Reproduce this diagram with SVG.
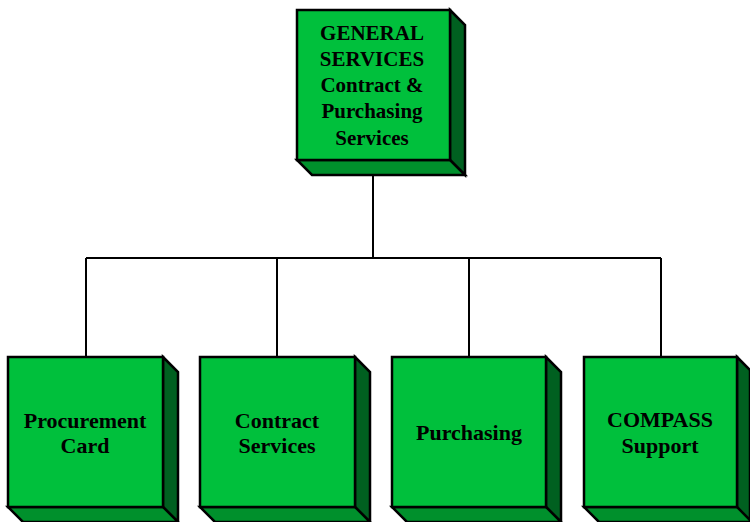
<svg xmlns="http://www.w3.org/2000/svg" width="750" height="522" viewBox="0 0 750 522">
<style>
.front{fill:#00C03C;stroke:#000;stroke-width:2.5;stroke-linejoin:miter}
.side{fill:#006020;stroke:#000;stroke-width:2.5}
.bot{fill:#00902C;stroke:#000;stroke-width:2.5}
.lbl{font-family:"Liberation Serif","Times New Roman",serif;font-weight:bold;font-size:22px;fill:#000;text-anchor:middle}
.top{font-size:21px}
.conn{stroke:#000;stroke-width:2;fill:none}
</style>
<rect width="750" height="522" fill="#fff"/>
<g id="connectors">
<path class="conn" d="M373 175V258M86 258H661M86 258V357M277 258V357M469 258V357M661 258V357"/>
</g>
<g id="general-services">
<polygon class="side" points="450,10 465,25 465,175 450,160"/>
<polygon class="bot" points="297,160 450,160 465,175 312,175"/>
<rect class="front" x="297" y="10" width="153" height="150"/>
<text class="lbl top" x="372" y="40">GENERAL</text>
<text class="lbl top" x="372" y="66">SERVICES</text>
<text class="lbl top" x="372" y="92">Contract &amp;</text>
<text class="lbl top" x="372" y="118">Purchasing</text>
<text class="lbl top" x="372" y="145">Services</text>
</g>
<g id="procurement-card">
<polygon class="side" points="163,357 178,372 178,522 163,507"/>
<polygon class="bot" points="8,507 163,507 178,522 23,522"/>
<rect class="front" x="8" y="357" width="155" height="150"/>
<text class="lbl" x="85" y="428">Procurement</text>
<text class="lbl" x="85" y="453">Card</text>
</g>
<g id="contract-services">
<polygon class="side" points="355,357 370,372 370,522 355,507"/>
<polygon class="bot" points="200,507 355,507 370,522 215,522"/>
<rect class="front" x="200" y="357" width="155" height="150"/>
<text class="lbl" x="277" y="428">Contract</text>
<text class="lbl" x="277" y="453">Services</text>
</g>
<g id="purchasing">
<polygon class="side" points="546,357 561,372 561,522 546,507"/>
<polygon class="bot" points="392,507 546,507 561,522 407,522"/>
<rect class="front" x="392" y="357" width="154" height="150"/>
<text class="lbl" x="469" y="440">Purchasing</text>
</g>
<g id="compass-support">
<polygon class="side" points="737,357 750,370 750,522 737,507"/>
<polygon class="bot" points="584,507 737,507 750,520 750,522 599,522"/>
<rect class="front" x="584" y="357" width="153" height="150"/>
<text class="lbl" x="660" y="427">COMPASS</text>
<text class="lbl" x="660" y="453">Support</text>
</g>
</svg>
